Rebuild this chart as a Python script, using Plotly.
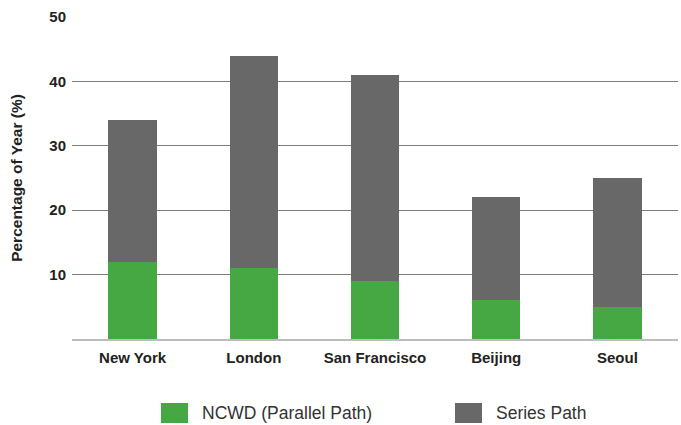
import plotly.graph_objects as go

cities = ["New York", "London", "San Francisco", "Beijing", "Seoul"]
ncwd = [12, 11, 9, 6, 5]
series_path = [22, 33, 32, 16, 20]
y_ticks = [10, 20, 30, 40, 50]

GREEN = "#46a843"
GRAY = "#686868"
FONT = "Liberation Sans, Arial, sans-serif"

L, R, T, B = 72, 3, 17, 86
W, H = 681, 425
PW, PH = W - L - R, H - T - B

fig = go.Figure()
fig.add_trace(go.Bar(x=cities, y=ncwd, name="NCWD (Parallel Path)", marker_color=GREEN, marker_line_width=0))
fig.add_trace(go.Bar(x=cities, y=series_path, name="Series Path", marker_color=GRAY, marker_line_width=0))

fig.update_layout(
    barmode="stack",
    bargap=0.6,
    width=W, height=H,
    margin=dict(l=L, r=R, t=T, b=B, autoexpand=False),
    plot_bgcolor="white", paper_bgcolor="white",
    showlegend=False,
    font=dict(family=FONT, color="#222"),
)
fig.update_xaxes(
    automargin=False,
    showgrid=False, showline=True, linecolor="#bdbdbd", linewidth=2,
    ticks="outside", ticklen=4, tickcolor="rgba(0,0,0,0)",
    tickfont=dict(size=15, weight="bold", color="#222"),
)
fig.update_yaxes(
    automargin=False,
    range=[0, 50], tickvals=y_ticks, showgrid=True, gridcolor="#7d7d7d", gridwidth=1,
    zeroline=False, showline=False,
    ticks="outside", ticklen=2, tickcolor="rgba(0,0,0,0)",
    tickfont=dict(size=15, weight="bold", color="#222"),
    title=dict(text="Percentage of Year (%)", font=dict(size=15.5, weight="bold", color="#222"), standoff=22),
)

# legend drawn in paper space
def px_x(px):
    return (px - L) / PW

def px_y(py):
    return (H - B - py) / PH

legend_items = [("NCWD (Parallel Path)", GREEN, 161), ("Series Path", GRAY, 455)]
for label, color, px in legend_items:
    fig.add_shape(type="rect", xref="paper", yref="paper", x0=px_x(px), x1=px_x(px + 27),
                  y0=px_y(423), y1=px_y(403), fillcolor=color, line_width=0)
    fig.add_annotation(xref="paper", yref="paper", x=px_x(px + 39), y=px_y(413), text=label,
                       showarrow=False, xanchor="left", yanchor="middle",
                       font=dict(size=17.5, color="#333", family=FONT))

fig.write_html("out.html", config={"displayModeBar": False},
               post_script="document.body.style.margin='0';")
